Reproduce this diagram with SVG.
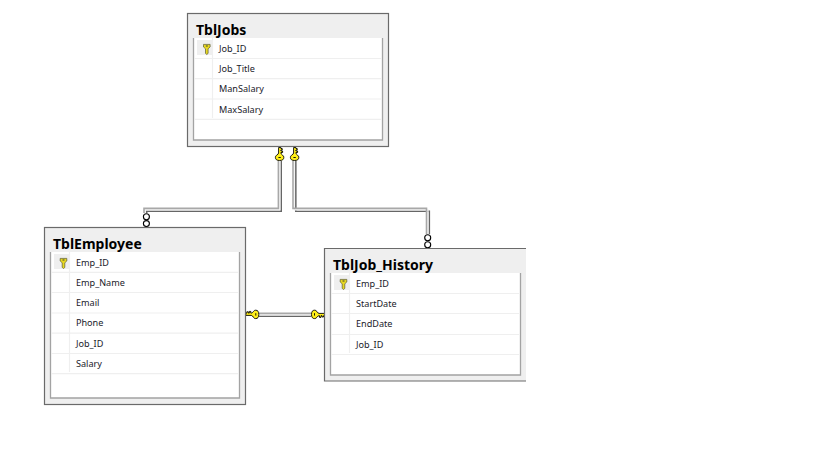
<svg xmlns="http://www.w3.org/2000/svg" xmlns:xlink="http://www.w3.org/1999/xlink" width="819" height="460" viewBox="0 0 819 460">
<style>
.outer{fill:#efefef;stroke:#6a6a6a;stroke-width:1.2}
.inner{fill:#fff}
.frame{fill:none;stroke:#a3a3a3;stroke-width:1.3}
.sep{stroke:#efefef;stroke-width:1.2;fill:none}
.cell{fill:#efefef}
.title{font:bold 14px "Noto Sans","DejaVu Sans",sans-serif;fill:#000}
.row{font:9.1px "Noto Sans","DejaVu Sans",sans-serif;fill:#1a1a2a}
.c{fill:none;stroke-linejoin:miter}
.hi{stroke:#a8a8a8;stroke-width:1.6}
.mid{stroke:#f4f4f4;stroke-width:1.4}
.lo{stroke:#666;stroke-width:1.6}
.ring{fill:#fff;stroke:#000;stroke-width:1.1}
.kb{fill:#ffef1a;stroke:#000;stroke-width:.9}
.kk{fill:#e8d820;stroke:#5a5a30;stroke-width:.7}
</style>
<defs>
<g id="key">
<path class="kb" d="M-1 -9.500V-4Q-1 -3 -3 -1.800Q-4.200 -1 -4.200 .4Q-4.200 3.500 0 3.500Q4.200 3.500 4.200 .4Q4.200 -1 3 -1.800Q1.300 -3 1.300 -4V-4.500H3V-6H1.300V-7H2.600V-8.500H1.300V-9.500Z"/>
<path d="M-1.200 .5H1.200" stroke="#000" stroke-width=".9"/>
</g>
<g id="pk">
<path class="kk" d="M-3.300 -4.600H3.300L3.300 -2L1.300 -.2V4.400L0 5.500L-1.300 4.400V-.2L-3.300 -2Z"/>
<rect x="-1" y="-3.600" width="2" height="1.200" fill="#5a5a30"/>
</g>
</defs>
<rect width="819" height="460" fill="#fff"/>

<g id="connectors">
<g id="fk-jobs-employee">
<path class="c lo" d="M281.200 161V211.200H146.700V213"/>
<path class="c mid" d="M279.800 161V209.800H145.300V213"/>
<path class="c hi" d="M278.400 161V208.400H144V213"/>
<use xlink:href="#key" href="#key" x="279.600" y="157"/>
<circle class="ring" cx="146.400" cy="216.700" r="3"/>
<circle class="ring" cx="146.400" cy="223.600" r="3"/>
</g>
<g id="fk-jobs-history">
<path class="c lo" d="M295.800 161V211.200H429.300V234"/>
<path class="c mid" d="M294.400 161V209.800H427.900V234"/>
<path class="c hi" d="M293 161V208.400H426.500V234"/>
<use xlink:href="#key" href="#key" x="294.600" y="157"/>
<circle class="ring" cx="427.700" cy="237.700" r="3"/>
<circle class="ring" cx="427.700" cy="244.800" r="3"/>
</g>
<g id="fk-employee-history">
<path class="c lo" d="M259 316.200H311"/>
<path class="c mid" d="M259 314.800H311"/>
<path class="c hi" d="M259 313.400H311"/>
<use xlink:href="#key" href="#key" transform="translate(255.300 314.400) rotate(-90)"/>
<use xlink:href="#key" href="#key" transform="translate(315 314.400) rotate(90)"/>
</g>
</g>

<g id="TblJobs">
<rect class="outer" x="187.500" y="13.500" width="201" height="133"/>
<rect class="inner" x="193.500" y="38" width="189" height="102"/>
<path class="frame" d="M193.500 38V140H382.500V38"/>
<path class="sep" d="M194 58.500H381M194 78.700H381M194 99H381M194 119.300H381M212.500 38V118"/>
<rect class="cell" x="197" y="40" width="15" height="15"/>
<use xlink:href="#pk" href="#pk" x="206.800" y="49"/>
<text class="title" x="196" y="35">TblJobs</text>
<text class="row" x="219" y="52">Job_ID</text>
<text class="row" x="219" y="72">Job_Title</text>
<text class="row" x="219" y="92">ManSalary</text>
<text class="row" x="219" y="113">MaxSalary</text>
</g>

<g id="TblEmployee">
<rect class="outer" x="44.500" y="227.500" width="201" height="177"/>
<rect class="inner" x="50.500" y="252" width="189" height="146"/>
<path class="frame" d="M50.500 252V398H239.500V252"/>
<path class="sep" d="M51 272.300H238M51 292.500H238M51 313H238M51 333.200H238M51 353.500H238M51 373.700H238M69.500 252V372"/>
<rect class="cell" x="54" y="254" width="15" height="15"/>
<use xlink:href="#pk" href="#pk" x="63.500" y="263"/>
<text class="title" x="53" y="249">TblEmployee</text>
<text class="row" x="76" y="266">Emp_ID</text>
<text class="row" x="76" y="286">Emp_Name</text>
<text class="row" x="76" y="306">Email</text>
<text class="row" x="76" y="326">Phone</text>
<text class="row" x="76" y="347">Job_ID</text>
<text class="row" x="76" y="367">Salary</text>
</g>

<g id="TblJob_History">
<path class="outer" d="M526 248.500H324.500V381H526"/>
<rect x="526" y="248" width="4" height="134" fill="#fff"/>
<rect class="inner" x="330.500" y="273" width="190" height="102"/>
<path class="frame" d="M330.500 273V375H520.500V273"/>
<path class="sep" d="M331 293.500H519M331 313.500H519M331 334.500H519M331 354.500H519M349.500 273V353"/>
<rect class="cell" x="334" y="275" width="15" height="15"/>
<use xlink:href="#pk" href="#pk" x="343.500" y="284"/>
<text class="title" x="333" y="270">TblJob_History</text>
<text class="row" x="356" y="287">Emp_ID</text>
<text class="row" x="356" y="307">StartDate</text>
<text class="row" x="356" y="327">EndDate</text>
<text class="row" x="356" y="348">Job_ID</text>
</g>
</svg>
